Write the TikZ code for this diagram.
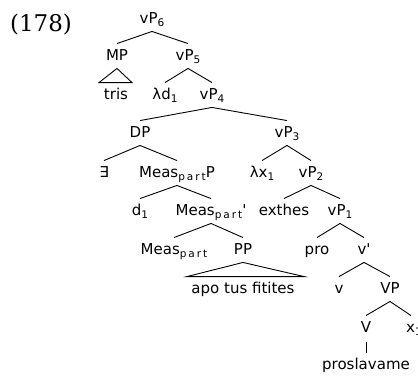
\documentclass[tikz,border=0pt]{standalone}
\usepackage{fontspec}
\setmainfont{DejaVu Sans}
\newfontfamily\exfont{DejaVu Serif}
\usepackage{tikz}

\newcommand{\lo}[1]{\raisebox{-3pt}{\fontsize{10.5}{12}\selectfont #1}}
\newcommand{\prt}{\lo{p\hspace{2pt}a\hspace{2pt}r\hspace{2pt}t}}
\newcommand{\pr}{\textquotesingle}

\begin{document}
\begin{tikzpicture}[x=1pt,y=-1pt,
    lab/.style={inner xsep=1pt,inner ysep=5pt,text height=11pt,text depth=3pt},
    every node/.style={lab,font=\fontsize{15}{18}\selectfont},
    every path/.style={line width=0.9pt}]
  \useasboundingbox (0,0) rectangle (418,376);

  \node (num) at (41,27) {\exfont\fontsize{23}{26}\selectfont (178)};

  % top of the tree
  \node (vp6) at (152,19) {vP\lo{6}};
  \node (mp) at (117,56) {MP};
  \node (vp5) at (188,56) {vP\lo{5}};
  \node (tris) at (116,95) {tris};
  \node (ld) at (165,95) {λd\lo{1}};
  \node (vp4) at (212,95) {vP\lo{4}};

  \draw (vp6.south) -- (mp.north);
  \draw (vp6.south) -- (vp5.north);
  \draw (mp.south) -- ([xshift=-17pt]tris.north) -- ([xshift=16pt]tris.north) -- cycle;
  \draw (vp5.south) -- (ld.north);
  \draw (vp5.south) -- (vp4.north);

  % DP branch
  \node (dp) at (140,133) {DP};
  \node (ex) at (104,173) {∃};
  \node (mpp) at (177,173) {Meas\prt P};
  \node (d1) at (140,211) {d\lo{1}};
  \node (mbar) at (211,211) {Meas\prt\pr};
  \node (meas) at (174,250) {Meas\prt};
  \node (pp) at (243,250) {PP};
  \node (apo) at (243,289) {apo tus fitites};

  \draw (vp4.south) -- (dp.north);
  \draw (dp.south) -- (ex.north);
  \draw (dp.south) -- (mpp.north);
  \draw (mpp.south) -- (d1.north);
  \draw (mpp.south) -- (mbar.north);
  \draw (mbar.south) -- (meas.north);
  \draw (mbar.south) -- (pp.north);
  \draw (pp.south) -- ([xshift=-56pt]apo.north) -- ([xshift=61pt]apo.north) -- cycle;

  % vP branch
  \node (vp3) at (287,133) {vP\lo{3}};
  \node (lx) at (262,173) {λx\lo{1}};
  \node (vp2) at (311,173) {vP\lo{2}};
  \node (exthes) at (284,211) {exthes};
  \node (vp1) at (340,211) {vP\lo{1}};
  \node (pro) at (317,250) {pro};
  \node (vbar) at (364,250) {v\pr};
  \node (v) at (339,289) {v};
  \node (vp) at (390,289) {VP};
  \node (V) at (366,328) {V};
  \node (x1) at (414,328) {x\lo{1}};
  \node (verb) at (366,365) {proslavame};

  \draw (vp4.south) -- (vp3.north);
  \draw (vp3.south) -- (lx.north);
  \draw (vp3.south) -- (vp2.north);
  \draw (vp2.south) -- (exthes.north);
  \draw (vp2.south) -- (vp1.north);
  \draw (vp1.south) -- (pro.north);
  \draw (vp1.south) -- (vbar.north);
  \draw (vbar.south) -- (v.north);
  \draw (vbar.south) -- (vp.north);
  \draw (vp.south) -- (V.north);
  \draw (vp.south) -- ([xshift=-3pt]x1.north);
  \draw ([yshift=-2pt]V.south) -- (verb.north);
\end{tikzpicture}
\end{document}
